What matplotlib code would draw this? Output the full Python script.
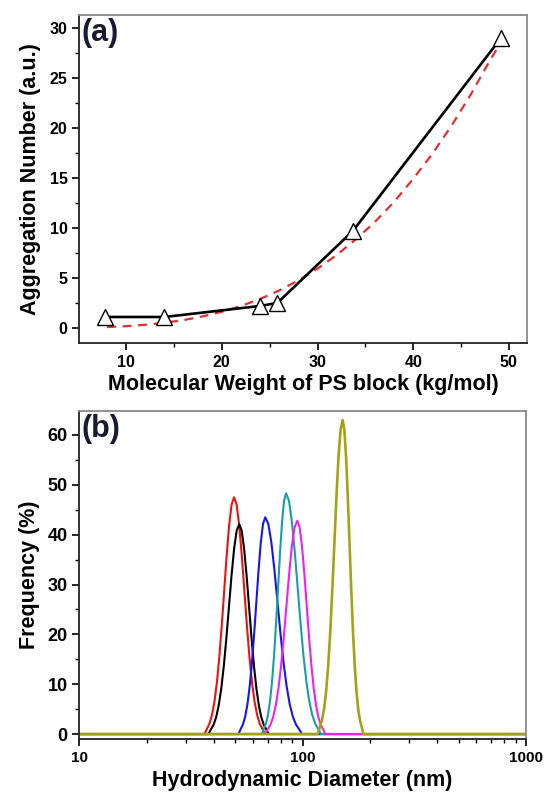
import numpy as np
import matplotlib
matplotlib.use("Agg")
import matplotlib.pyplot as plt
from matplotlib.ticker import MultipleLocator, LogLocator, NullFormatter, FixedLocator, FixedFormatter

plt.rcParams['font.family'] = ['Liberation Sans', 'DejaVu Sans']
plt.rcParams['font.weight'] = 'bold'

# ---- Panel (a) data ----
mw_ps = [7.8, 14.0, 24.0, 25.8, 33.7, 49.2]
agg_num = [1.1, 1.1, 2.2, 2.5, 9.7, 29.0]

fit_x = [8, 10, 12, 14, 16, 18, 20, 22, 24, 26, 28, 30, 32, 34, 36, 38, 40, 42, 44, 46, 48, 49.2]
fit_y = [0.09, 0.18, 0.32, 0.52, 0.79, 1.16, 1.62, 2.20, 2.90, 3.75, 4.75, 5.93, 7.29, 8.85,
         10.6, 12.6, 14.9, 17.4, 20.2, 23.3, 26.7, 28.6]

# ---- Panel (b) data: hydrodynamic diameter (nm) vs frequency (%) ----
red_x = [10, 36.38, 37.31, 38.27, 39.25, 40.26, 41.29, 42.35, 43.43, 44.55, 45.69, 46.87, 48.07,
         49.3, 50.62, 51.98, 53.38, 54.81, 56.28, 57.79, 59.34, 60.93, 62.57, 64.24, 65.97, 67.74, 1000]
red_y = [0, 0.0, 1.08, 2.09, 3.78, 6.43, 10.27, 15.42, 21.75, 28.81, 35.85, 41.92, 46.04,
         47.5, 46.04, 41.92, 35.85, 28.81, 21.75, 15.42, 10.27, 6.43, 3.78, 2.09, 1.08, 0.0, 0]

black_x = [10, 37.85, 38.86, 39.90, 40.98, 42.07, 43.20, 44.36, 45.55, 46.77, 48.03, 49.32, 50.64,
           52.0, 53.33, 54.70, 56.11, 57.55, 59.03, 60.53, 62.09, 63.68, 65.31, 66.99, 68.71, 70.47, 1000]
black_y = [0, 0.0, 0.96, 1.85, 3.35, 5.70, 9.11, 13.67, 19.27, 25.53, 31.78, 37.15, 40.80,
           42.1, 40.80, 37.15, 31.78, 25.53, 19.27, 13.67, 9.11, 5.70, 3.35, 1.85, 0.96, 0.0, 0]

blue_x = [10, 51.58, 52.78, 54.01, 55.27, 56.56, 57.87, 59.23, 60.61, 62.02, 63.46, 64.94, 66.45,
          68.0, 70.19, 72.45, 74.78, 77.18, 79.66, 82.23, 84.87, 87.60, 90.42, 93.32, 96.33, 99.43, 1000]
blue_y = [0, 0.0, 0.99, 1.91, 3.46, 5.89, 9.41, 14.12, 19.91, 26.38, 32.83, 38.39, 42.16,
          43.5, 42.16, 38.39, 32.83, 26.38, 19.91, 14.12, 9.41, 5.89, 3.46, 1.91, 0.99, 0.0, 0]

teal_x = [10, 65.74, 67.12, 68.52, 69.96, 71.42, 72.92, 74.45, 76.00, 77.59, 79.22, 80.88, 82.57,
          84.3, 86.86, 89.50, 92.22, 95.02, 97.91, 100.88, 103.95, 107.11, 110.37, 113.72, 117.18, 120.73, 1000]
teal_y = [0, 0.0, 1.10, 2.12, 3.84, 6.54, 10.45, 15.68, 22.11, 29.29, 36.46, 42.62, 46.81,
          48.3, 46.81, 42.62, 36.46, 29.29, 22.11, 15.68, 10.45, 6.54, 3.84, 2.12, 1.10, 0.0, 0]

magenta_x = [10, 67.90, 69.81, 71.76, 73.77, 75.84, 77.96, 80.15, 82.40, 84.70, 87.07, 89.51, 92.02,
             94.6, 96.92, 99.28, 101.71, 104.20, 106.76, 109.37, 112.04, 114.79, 117.60, 120.47, 123.42, 126.44, 1000]
magenta_y = [0, 0.0, 0.98, 1.88, 3.41, 5.79, 9.26, 13.90, 19.59, 25.96, 32.31, 37.77, 41.48,
             42.8, 41.48, 37.77, 32.31, 25.96, 19.59, 13.90, 9.26, 5.79, 3.41, 1.88, 0.98, 0.0, 0]

olive_x = [10, 116.95, 119.47, 122.04, 124.67, 127.35, 130.09, 132.90, 135.75, 138.68, 141.65, 144.70, 147.81,
           151.0, 153.72, 156.48, 159.31, 162.17, 165.09, 168.06, 171.10, 174.18, 177.30, 180.51, 183.75, 187.06, 1000]
olive_y = [0, 0.0, 1.44, 2.77, 5.01, 8.52, 13.63, 20.46, 28.84, 38.21, 47.55, 55.60, 61.06,
           63.0, 61.06, 55.60, 47.55, 38.21, 28.84, 20.46, 13.63, 8.52, 5.01, 2.77, 1.44, 0.0, 0]

fig = plt.figure(figsize=(5.47, 7.92), dpi=100)

spine_grey = '#8a8a8a'

def style_axes(ax):
    for s in ['left', 'bottom']:
        ax.spines[s].set_color('#222222')
        ax.spines[s].set_linewidth(1.3)
    for s in ['top', 'right']:
        ax.spines[s].set_color(spine_grey)
        ax.spines[s].set_linewidth(1.3)
    ax.tick_params(which='major', direction='out', length=5, width=1.2, top=False, right=False)
    ax.tick_params(which='minor', direction='out', length=3, width=1.0, top=False, right=False)

# Panel (a)
ax1 = fig.add_axes([0.145, 0.5673, 0.8185, 0.4141])
ax1.plot(mw_ps, agg_num, color='black', lw=1.9, zorder=3)
ax1.plot(fit_x, fit_y, color='#e03035', lw=1.6, ls=(0, (4, 3)), zorder=2)
ax1.plot(mw_ps, agg_num, ls='none', marker='^', ms=11, mfc='white', mec='black', mew=1.0, zorder=4)
ax1.set_xlim(5.1, 51.9)
ax1.set_ylim(-1.47, 31.3)
ax1.xaxis.set_major_locator(MultipleLocator(10))
ax1.xaxis.set_minor_locator(MultipleLocator(5))
ax1.yaxis.set_major_locator(MultipleLocator(5))
ax1.yaxis.set_minor_locator(MultipleLocator(2.5))
style_axes(ax1)
ax1.tick_params(which='major', labelsize=11.5)
ax1.set_xlabel('Molecular Weight of PS block (kg/mol)', fontsize=15.5, fontweight='bold', labelpad=3)
ax1.set_ylabel('Aggregation Number (a.u.)', fontsize=15.5, fontweight='bold', labelpad=6)
ax1.text(0.005, 0.99, '(a)', transform=ax1.transAxes, fontsize=22, fontweight='bold',
         color='#1a1a30', va='top', ha='left')

# Panel (b)
ax2 = fig.add_axes([0.145, 0.0669, 0.8166, 0.4141])
ax2.plot(red_x, red_y, color='#ee1111', lw=1.5)
ax2.plot(black_x, black_y, color='black', lw=1.5)
ax2.plot(blue_x, blue_y, color='#1515ee', lw=1.5)
ax2.plot(teal_x, teal_y, color='#1a9f9f', lw=1.5)
ax2.plot(magenta_x, magenta_y, color='#ee22ee', lw=1.5)
ax2.plot(olive_x, olive_y, color='#a3a315', lw=1.9)
ax2.set_xscale('log')
ax2.set_xlim(10, 1000)
ax2.set_ylim(-1.0, 64.8)
ax2.xaxis.set_major_locator(FixedLocator([10, 100, 1000]))
ax2.xaxis.set_major_formatter(FixedFormatter(['10', '100', '1000']))
ax2.xaxis.set_minor_locator(LogLocator(base=10, subs=np.arange(2, 10), numticks=20))
ax2.xaxis.set_minor_formatter(NullFormatter())
ax2.yaxis.set_major_locator(MultipleLocator(10))
ax2.yaxis.set_minor_locator(MultipleLocator(5))
style_axes(ax2)
ax2.tick_params(axis='x', which='major', labelsize=11)
ax2.tick_params(axis='y', which='major', labelsize=13)
ax2.set_xlabel('Hydrodynamic Diameter (nm)', fontsize=15.5, fontweight='bold', labelpad=4)
ax2.set_ylabel('Frequency (%)', fontsize=15.5, fontweight='bold', labelpad=5)
ax2.text(0.005, 0.99, '(b)', transform=ax2.transAxes, fontsize=22, fontweight='bold',
         color='#1a1a30', va='top', ha='left')

fig.savefig('out.png', dpi=100)
